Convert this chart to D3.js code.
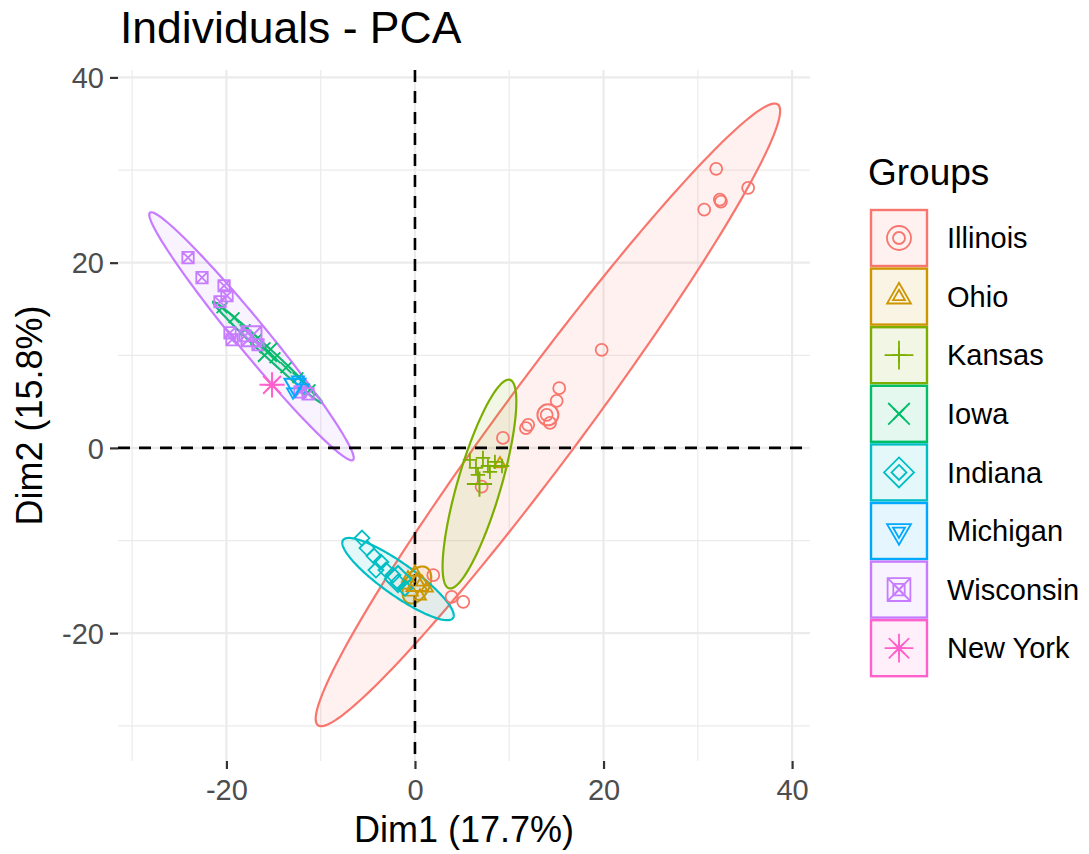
<!DOCTYPE html>
<html>
<head>
<meta charset="utf-8">
<script src="https://cdn.jsdelivr.net/npm/d3@7"></script>
<style>
  html, body { margin: 0; padding: 0; background: #ffffff; }
  svg { display: block; font-family: "Liberation Sans", Arial, Helvetica, sans-serif; }
</style>
</head>
<body>
<svg id="chart" width="1089" height="854"></svg>
<script>
// ---- data -------------------------------------------------------------
const groups = ["Illinois", "Ohio", "Kansas", "Iowa", "Indiana", "Michigan", "Wisconsin", "New York"];
const palette = ["#F8766D", "#CD9600", "#7CAE00", "#00BE67", "#00BFC4", "#00A9FF", "#C77CFF", "#FF61CC"];
const shapes = ["circle", "triangle", "plus", "cross", "diamond", "triangleDown", "squareCross", "asterisk"];

// individual coordinates [Dim1, Dim2]
const illinois = [[31.95, 30.13], [32.34, 26.81], [32.45, 26.59], [30.68, 25.73], [35.34, 28.08],
  [19.80, 10.59], [15.30, 6.45], [15.03, 5.08], [13.97, 3.57], [12.01, 2.49], [11.77, 2.13],
  [14.32, 2.70], [9.33, 1.08], [7.07, -4.18], [1.94, -13.73], [3.89, -16.08], [5.12, -16.62]];
const ohio = [[-0.74, -14.05], [0.00, -13.41], [0.74, -14.49], [-0.32, -15.57], [0.53, -16.00],
  [1.27, -15.14], [-1.06, -14.81], [9.01, -1.73]];
const kansas = [[5.83, -1.30], [6.47, -2.16], [7.21, -1.08], [7.74, -1.95], [8.48, -1.51],
  [9.23, -1.95], [6.68, -2.92], [7.95, -2.59]];
const iowa = [[-20.47, 15.14], [-19.19, 14.05], [-18.03, 12.76], [-16.86, 11.68], [-15.91, 10.81],
  [-14.85, 9.73], [-13.68, 8.65], [-12.41, 7.57], [-11.13, 6.27]];
const indiana = [[-5.62, -9.73], [-5.09, -10.81], [-4.35, -11.68], [-3.61, -12.32], [-3.08, -13.19],
  [-2.33, -13.73], [-1.80, -14.49], [-1.06, -15.14], [-4.14, -13.19]];
const michigan = [[-12.94, 6.05], [-11.88, 6.49], [-12.41, 7.35]];
const wisconsin = [[-24.07, 20.54], [-22.59, 18.38], [-20.25, 17.51], [-19.94, 16.43], [-20.68, 15.78],
  [-19.62, 12.43], [-19.41, 11.68], [-18.03, 12.11], [-16.65, 11.14], [-12.19, 6.05], [-11.34, 5.84]];
const newYork = [[-15.16, 6.81]];
const groupPoints = [illinois, ohio, kansas, iowa, indiana, michigan, wisconsin, newYork];

// group mean points [Dim1, Dim2]
const groupMeans = [[14.10, 3.57], [0.20, -14.80], [6.84, -3.90], [-15.64, 10.32],
  [-1.80, -14.16], [-12.73, 6.81], [-17.34, 12.05], [-15.16, 6.81]];

// concentration ellipses: half major axis as a Dim1/Dim2 vector, half minor axis length
const ellipseMajor = [[24.39, 33.51], [1.0, 1.9], [3.23, 11.25], [5.78, -5.46],
  [5.83, -4.21], null, [10.77, -13.35], null];
const ellipseMinor = [4.3, 1.3, 2.3, 0.45, 1.7, null, 1.65, null];

const xTicks = [-20, 0, 20, 40];
const yTicks = [-20, 0, 20, 40];
const xMinor = [-30, -10, 10, 30];
const yMinor = [-30, -10, 10, 30];

const titleText = "Individuals - PCA";
const xTitle = "Dim1 (17.7%)";
const yTitle = "Dim2 (15.8%)";
const legendTitle = "Groups";

// ---- layout -----------------------------------------------------------
const svg = d3.select("#chart");
const panel = { left: 118, right: 810, top: 70, bottom: 761 };

const x = d3.scaleLinear().domain([-31.5, 41.9]).range([panel.left, panel.right]);
const y = d3.scaleLinear().domain([-33.8, 40.8]).range([panel.bottom, panel.top]);

svg.append("rect").attr("width", 1089).attr("height", 854).attr("fill", "#ffffff");

// grid
const grid = svg.append("g");
grid.selectAll(".vminor").data(xMinor).join("line")
  .attr("x1", d => x(d)).attr("x2", d => x(d))
  .attr("y1", panel.top).attr("y2", panel.bottom)
  .attr("stroke", "#EBEBEB").attr("stroke-width", 1.2);
grid.selectAll(".hminor").data(yMinor).join("line")
  .attr("y1", d => y(d)).attr("y2", d => y(d))
  .attr("x1", panel.left).attr("x2", panel.right)
  .attr("stroke", "#EBEBEB").attr("stroke-width", 1.2);
grid.selectAll(".vmajor").data(xTicks).join("line")
  .attr("x1", d => x(d)).attr("x2", d => x(d))
  .attr("y1", panel.top).attr("y2", panel.bottom)
  .attr("stroke", "#EBEBEB").attr("stroke-width", 2.2);
grid.selectAll(".hmajor").data(yTicks).join("line")
  .attr("y1", d => y(d)).attr("y2", d => y(d))
  .attr("x1", panel.left).attr("x2", panel.right)
  .attr("stroke", "#EBEBEB").attr("stroke-width", 2.2);

// axes (ticks + labels), plain hyphen minus in the labels
const fmt = d => String(d);
const xAxis = svg.append("g").attr("transform", `translate(0,${panel.bottom})`)
  .call(d3.axisBottom(x).tickValues(xTicks).tickSize(8).tickPadding(10).tickFormat(fmt));
const yAxis = svg.append("g").attr("transform", `translate(${panel.left},0)`)
  .call(d3.axisLeft(y).tickValues(yTicks).tickSize(8).tickPadding(6).tickFormat(fmt));
[xAxis, yAxis].forEach(g => {
  g.select(".domain").remove();
  g.selectAll(".tick line").attr("stroke", "#333333").attr("stroke-width", 2.2);
  g.selectAll(".tick text").attr("fill", "#4D4D4D").attr("font-size", 29)
    .attr("font-family", "Liberation Sans, Arial, sans-serif");
});
xAxis.selectAll(".tick text").attr("dy", "0.71em");
yAxis.selectAll(".tick text").attr("dy", "0.35em");

// ---- symbols ----------------------------------------------------------
function symbolPath(shape, r) {
  const p = d3.path();
  switch (shape) {
    case "circle":
      p.moveTo(r, 0); p.arc(0, 0, r, 0, 2 * Math.PI); break;
    case "triangle": {
      const h = r * 1.15;
      p.moveTo(0, -h); p.lineTo(h * 0.866, h * 0.5); p.lineTo(-h * 0.866, h * 0.5); p.closePath(); break;
    }
    case "triangleDown": {
      const h = r * 1.15;
      p.moveTo(0, h); p.lineTo(h * 0.866, -h * 0.5); p.lineTo(-h * 0.866, -h * 0.5); p.closePath(); break;
    }
    case "plus":
      p.moveTo(-r * 1.2, 0); p.lineTo(r * 1.2, 0); p.moveTo(0, -r * 1.2); p.lineTo(0, r * 1.2); break;
    case "cross": {
      const s = r * 0.9;
      p.moveTo(-s, -s); p.lineTo(s, s); p.moveTo(-s, s); p.lineTo(s, -s); break;
    }
    case "diamond": {
      const s = r * 1.25;
      p.moveTo(0, -s); p.lineTo(s, 0); p.lineTo(0, s); p.lineTo(-s, 0); p.closePath(); break;
    }
    case "squareCross": {
      const s = r * 0.95;
      p.rect(-s, -s, 2 * s, 2 * s);
      p.moveTo(-s, -s); p.lineTo(s, s); p.moveTo(-s, s); p.lineTo(s, -s); break;
    }
    case "asterisk": {
      const s = r * 1.2, d = s * 0.707;
      p.moveTo(-s, 0); p.lineTo(s, 0); p.moveTo(0, -s); p.lineTo(0, s);
      p.moveTo(-d, -d); p.lineTo(d, d); p.moveTo(-d, d); p.lineTo(d, -d); break;
    }
  }
  return p.toString();
}

// ---- ellipses ---------------------------------------------------------
function ellipsePath(i) {
  const [cx, cy] = groupMeans[i];
  const [ax, ay] = ellipseMajor[i];
  const c = [x(cx), y(cy)];
  const a = [x(cx + ax) - c[0], y(cy + ay) - c[1]];
  const len = Math.hypot(a[0], a[1]);
  const bpx = ellipseMinor[i] * (x(1) - x(0));
  const b = [-a[1] / len * bpx, a[0] / len * bpx];
  const pts = d3.range(0, 181).map(k => {
    const t = k / 180 * 2 * Math.PI;
    return [c[0] + Math.cos(t) * a[0] + Math.sin(t) * b[0], c[1] + Math.cos(t) * a[1] + Math.sin(t) * b[1]];
  });
  return d3.line()(pts) + "Z";
}

const ellipseIdx = groups.map((g, i) => i).filter(i => ellipseMajor[i]);
svg.append("g").selectAll("path").data(ellipseIdx).join("path")
  .attr("d", i => ellipsePath(i))
  .attr("fill", i => palette[i]).attr("fill-opacity", 0.1)
  .attr("stroke", i => palette[i]).attr("stroke-width", 2.2);

// reference lines at 0
svg.append("line").attr("x1", panel.left).attr("x2", panel.right)
  .attr("y1", y(0)).attr("y2", y(0))
  .attr("stroke", "#000").attr("stroke-width", 2.6).attr("stroke-dasharray", "12,9");
svg.append("line").attr("y1", panel.top).attr("y2", panel.bottom)
  .attr("x1", x(0)).attr("x2", x(0))
  .attr("stroke", "#000").attr("stroke-width", 2.6).attr("stroke-dasharray", "12,9");

// individual points
const pts = svg.append("g");
groups.forEach((g, i) => {
  pts.append("g").selectAll("path").data(groupPoints[i]).join("path")
    .attr("transform", d => `translate(${x(d[0])},${y(d[1])})`)
    .attr("d", symbolPath(shapes[i], 6))
    .attr("fill", "none").attr("stroke", palette[i]).attr("stroke-width", 1.8);
});

// group means
svg.append("g").selectAll("path").data(groupMeans).join("path")
  .attr("transform", d => `translate(${x(d[0])},${y(d[1])})`)
  .attr("d", (d, i) => symbolPath(shapes[i], 10.5))
  .attr("fill", "none").attr("stroke", (d, i) => palette[i]).attr("stroke-width", 2);

// ---- titles -----------------------------------------------------------
svg.append("text").attr("x", 120).attr("y", 43).attr("font-size", 44.5).attr("fill", "#000")
  .text(titleText);
svg.append("text").attr("x", (panel.left + panel.right) / 2).attr("y", 842)
  .attr("text-anchor", "middle").attr("font-size", 36).attr("fill", "#000").text(xTitle);
svg.append("text").attr("transform", `translate(42,${(panel.top + panel.bottom) / 2}) rotate(-90)`)
  .attr("text-anchor", "middle").attr("font-size", 36).attr("fill", "#000").text(yTitle);

// ---- legend -----------------------------------------------------------
const legend = svg.append("g");
legend.append("text").attr("x", 868).attr("y", 185).attr("font-size", 37).attr("fill", "#000")
  .text(legendTitle);
const keySize = 56, keyStep = 58.6, keyTop = 210, keyLeft = 871;
const keys = legend.selectAll(".key").data(groups).join("g")
  .attr("transform", (d, i) => `translate(${keyLeft},${keyTop + i * keyStep})`);
keys.append("rect").attr("x", 0).attr("y", 0).attr("width", keySize).attr("height", keySize)
  .attr("fill", (d, i) => palette[i]).attr("fill-opacity", 0.1)
  .attr("stroke", (d, i) => palette[i]).attr("stroke-width", 2.4);
keys.append("path").attr("transform", `translate(${keySize / 2},${keySize / 2})`)
  .attr("d", (d, i) => symbolPath(shapes[i], 6))
  .attr("fill", "none").attr("stroke", (d, i) => palette[i]).attr("stroke-width", 1.8);
keys.append("path").attr("transform", `translate(${keySize / 2},${keySize / 2})`)
  .attr("d", (d, i) => symbolPath(shapes[i], 12))
  .attr("fill", "none").attr("stroke", (d, i) => palette[i]).attr("stroke-width", 1.8);
keys.append("text").attr("x", 76).attr("y", keySize / 2).attr("dy", "0.35em")
  .attr("font-size", 29).attr("fill", "#000").text(d => d);
</script>
</body>
</html>
